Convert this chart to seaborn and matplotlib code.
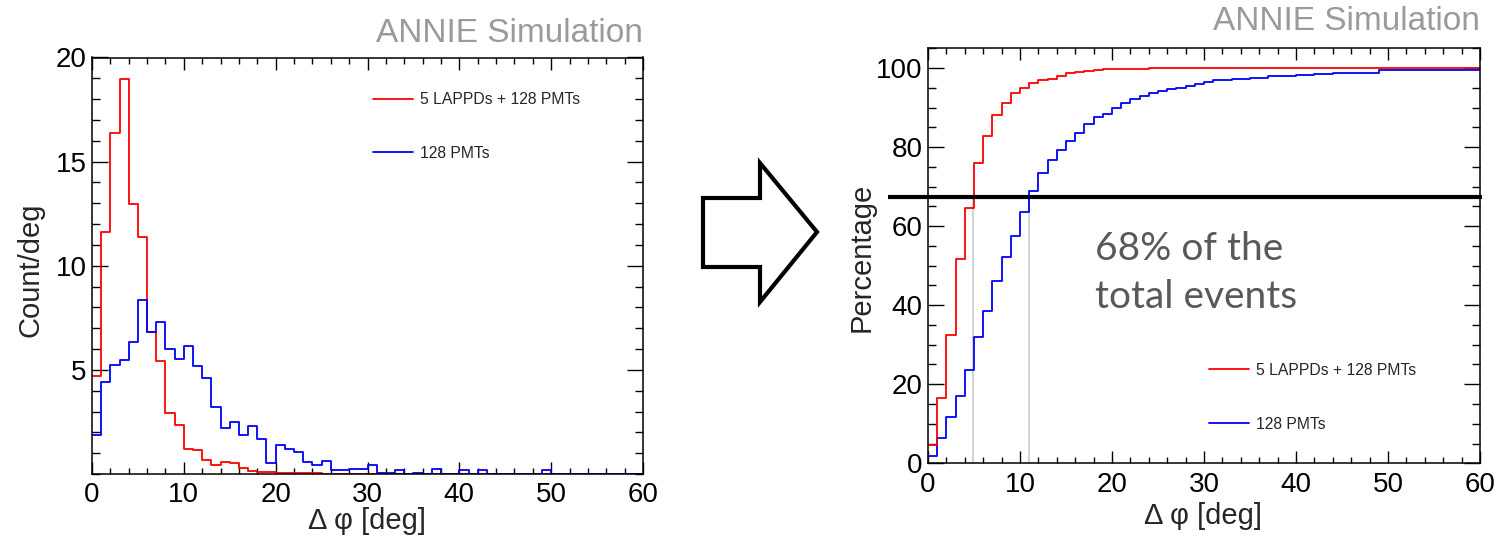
import numpy as np
import matplotlib
matplotlib.use("Agg")
import matplotlib.pyplot as plt
from matplotlib.patches import Polygon
from matplotlib.lines import Line2D
from matplotlib.ticker import MultipleLocator
import seaborn as sns

# ---------------- data ----------------
bin_edges = list(range(0, 61))          # 1 deg bins, 0..60 deg

label_lappd = "5 LAPPDs + 128 PMTs"
label_pmt = "128 PMTs"

# left panel: Count/deg per 1-deg bin
hist_lappd = [4.72, 11.63, 16.37, 18.96, 12.98, 11.38, 6.80, 5.45, 2.95, 2.35,
              1.20, 1.15, 0.67, 0.43, 0.58, 0.53, 0.30, 0.16, 0.10, 0.10,
              0.03, 0.03, 0.03, 0.03, 0.05, 0.0, 0.0, 0.0, 0.0, 0.0,
              0.0, 0.0, 0.0, 0.0, 0.0, 0.0, 0.0, 0.0, 0.0, 0.0,
              0.0, 0.0, 0.0, 0.0, 0.0, 0.0, 0.0, 0.0, 0.0, 0.0,
              0.0, 0.0, 0.0, 0.0, 0.0, 0.0, 0.0, 0.0, 0.0, 0.0]
hist_pmt = [1.89, 4.40, 5.23, 5.49, 6.32, 8.37, 6.80, 7.29, 6.02, 5.51,
            6.15, 5.20, 4.60, 3.20, 2.20, 2.50, 1.87, 2.32, 1.66, 0.55,
            1.40, 1.20, 1.05, 0.60, 0.42, 0.62, 0.20, 0.20, 0.26, 0.26,
            0.41, 0.06, 0.06, 0.21, 0.0, 0.06, 0.0, 0.26, 0.0, 0.0,
            0.21, 0.0, 0.21, 0.0, 0.0, 0.0, 0.0, 0.0, 0.0, 0.21,
            0.0, 0.0, 0.0, 0.0, 0.0, 0.0, 0.0, 0.0, 0.0, 0.0]

# right panel: cumulative percentage per 1-deg bin
cdf_lappd = [4.7, 16.4, 32.5, 51.8, 64.6, 76.0, 82.7, 88.1, 91.2, 93.6,
             95.0, 96.3, 96.9, 97.35, 98.05, 98.7, 99.0, 99.2, 99.4, 99.7,
             99.7, 99.7, 99.7, 99.7, 100, 100, 100, 100, 100, 100,
             100, 100, 100, 100, 100, 100, 100, 100, 100, 100,
             100, 100, 100, 100, 100, 100, 100, 100, 100, 100,
             100, 100, 100, 100, 100, 100, 100, 100, 100, 100]
cdf_pmt = [1.8, 6.3, 11.6, 17.1, 23.6, 32.0, 38.6, 46.1, 52.2, 57.5,
           63.6, 69.0, 73.4, 76.8, 79.2, 81.5, 83.5, 85.9, 87.5, 88.3,
           89.8, 91.2, 92.2, 92.9, 93.7, 94.3, 94.8, 95.0, 95.4, 96.0,
           96.5, 96.9, 97.0, 97.3, 97.3, 97.5, 97.5, 97.9, 97.9, 97.9,
           98.2, 98.2, 98.5, 98.5, 98.8, 98.8, 98.8, 98.8, 98.8, 99.4,
           99.6, 99.6, 99.6, 99.6, 99.6, 99.6, 99.6, 99.6, 99.6, 99.6]

x_ticks = [0, 10, 20, 30, 40, 50, 60]
y_ticks_left = [5, 10, 15, 20]
y_ticks_right = [0, 20, 40, 60, 80, 100]
level_68 = 67.3
cross_lappd = 4.88
cross_pmt = 10.93
note_text = "68% of the\ntotal events"
sim_label = "ANNIE Simulation"

# ---------------- style ----------------
sns.set_theme(style="ticks")
plt.rcParams['font.family'] = ['Liberation Sans', 'DejaVu Sans']
plt.rcParams['axes.linewidth'] = 1.1

W, H = 1500, 541
fig = plt.figure(figsize=(W / 100, H / 100), dpi=100)
fig.patch.set_facecolor("white")


def fx(px):
    return px / W


def fy(py):
    return (H - py) / H


axL = fig.add_axes([fx(92), fy(474), 551 / W, 416.5 / H])
axR = fig.add_axes([fx(928), fy(463.3), 552 / W, 415 / H])

centers = np.array(bin_edges[:-1]) + 0.5
RED, BLUE = "#ff0000", "#0000ff"

sns.histplot(x=centers, weights=hist_lappd, bins=bin_edges, element="step",
             fill=False, color=RED, linewidth=1.3, ax=axL)
sns.histplot(x=centers, weights=hist_pmt, bins=bin_edges, element="step",
             fill=False, color=BLUE, linewidth=1.3, ax=axL)

sns.histplot(x=centers, weights=cdf_pmt, bins=bin_edges, element="step",
             fill=False, color=BLUE, linewidth=1.3, ax=axR)
sns.histplot(x=centers, weights=cdf_lappd, bins=bin_edges, element="step",
             fill=False, color=RED, linewidth=1.3, ax=axR)

for ax in (axL, axR):
    ax.set_facecolor("white")
    ax.set_xlim(0, 60)
    ax.set_xticks(x_ticks)
    ax.xaxis.set_minor_locator(MultipleLocator(2))
    for s in ax.spines.values():
        s.set_visible(True)
        s.set_color("black")
        s.set_linewidth(1.1)
    ax.tick_params(which="both", direction="in", top=True, right=True,
                   colors="black", width=1.0)
    ax.tick_params(axis="x", which="major", length=8.5, labelsize=20, pad=6)
    ax.tick_params(axis="x", which="minor", length=4.3)
    ax.tick_params(axis="y", which="major", length=11.5, labelsize=20, pad=4)
    ax.tick_params(axis="y", which="minor", length=5.8)
    ax.grid(False)

axL.set_ylim(0, 20)
axL.set_yticks(y_ticks_left)
axL.yaxis.set_minor_locator(MultipleLocator(1))
axR.set_ylim(0, 105)
axR.set_yticks(y_ticks_right)
axR.yaxis.set_minor_locator(MultipleLocator(5))

# axis labels
axL.set_xlabel("Δ φ [deg]", fontsize=21, va="center")
axL.xaxis.set_label_coords(0.5, -0.112)
axL.set_ylabel("Count/deg", fontsize=21, va="center")
axL.yaxis.set_label_coords(-0.112, 0.49)
axR.set_xlabel("Δ φ [deg]", fontsize=21, va="center")
axR.xaxis.set_label_coords(0.498, -0.126)
axR.set_ylabel("Percentage", fontsize=21, va="center")
axR.yaxis.set_label_coords(-0.121, 0.495)

# legends
hL = [Line2D([0], [0], color=RED, lw=1.3), Line2D([0], [0], color=BLUE, lw=1.3)]
axL.legend(hL, [label_lappd, label_pmt], loc="upper left",
           bbox_to_anchor=(0.51, 0.917), frameon=False, fontsize=11.3,
           handlelength=2.55, handletextpad=0.45, labelspacing=2.48,
           borderpad=0, borderaxespad=0)
axR.legend(hL, [label_lappd, label_pmt], loc="upper left",
           bbox_to_anchor=(0.509, 0.242), frameon=False, fontsize=11.3,
           handlelength=2.55, handletextpad=0.45, labelspacing=2.48,
           borderpad=0, borderaxespad=0)

# 68% marker lines
axR.vlines([cross_lappd, cross_pmt], 0, level_68, color="#cfcfcf", lw=1.3, zorder=1)
axR.plot([-4.35, 60.2], [level_68, level_68], color="black", lw=3.0,
         clip_on=False, zorder=5, solid_capstyle="butt")

axR.text(fx(1095), fy(273), note_text, transform=fig.transFigure,
         fontsize=28, color="#595959", family=["Lato", "DejaVu Sans"],
         ha="left", va="center", linespacing=1.38)

# simulation labels
fig.text(fx(643), fy(33), sim_label, ha="right", va="center",
         fontsize=24, color="#9a9a9a")
fig.text(fx(1480), fy(21), sim_label, ha="right", va="center",
         fontsize=24, color="#9a9a9a")

# block arrow between the panels
arrow_px = [(703, 198), (760, 198), (760, 163), (817, 232),
            (760, 302), (760, 267), (703, 267)]
arrow = Polygon([(fx(x), fy(y)) for x, y in arrow_px], closed=True,
                facecolor="white", edgecolor="black", lw=3.0,
                joinstyle="miter", transform=fig.transFigure)
fig.add_artist(arrow)

fig.savefig("out.png", dpi=100, facecolor="white")
